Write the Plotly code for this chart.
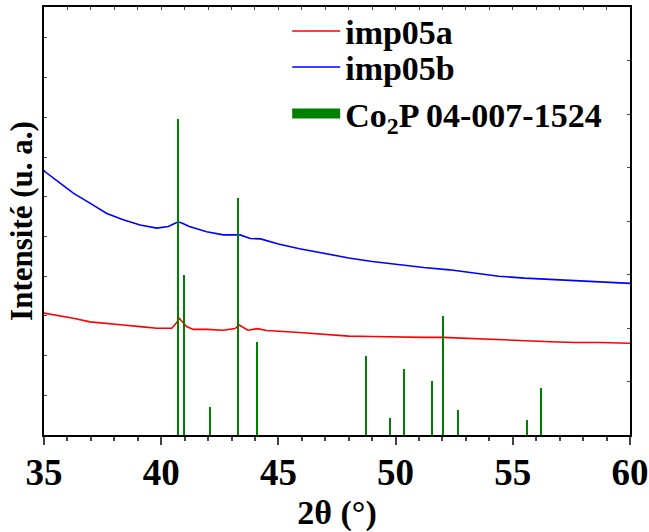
import plotly.graph_objects as go

# --- data ---
two_theta_b = [35.0, 35.05, 35.7, 36.25, 36.96, 37.68, 38.38, 39.1, 39.81, 40.3, 40.55, 40.73,
               40.95, 41.2, 41.94, 42.65, 43.37, 43.8, 44.24, 45.0, 45.9, 47.0, 48.0, 49.0,
               50.2, 51.2, 52.3, 53.4, 54.4, 55.5, 56.6, 57.7, 58.7, 60.0]
imp05b = [667, 663, 634, 609, 584, 558, 542, 529, 521, 525, 532, 537,
          532, 525, 512, 504, 504, 495, 494, 481, 469, 456, 446, 437,
          428, 422, 416, 407, 400, 395, 392, 388, 385, 382]

two_theta_a = [35.0, 35.5, 36.25, 36.96, 37.68, 38.38, 39.1, 39.81, 40.45, 40.62, 40.77, 40.92,
               41.08, 41.37, 41.94, 42.65, 43.15, 43.33, 43.5, 43.7, 44.1, 44.5, 45.9, 47.0,
               48.0, 49.0, 50.2, 51.2, 52.0, 53.2, 54.4, 55.5, 56.6, 57.7, 58.7, 60.0]
imp05a = [307, 302, 294, 285, 280, 277, 273, 269, 269, 280, 294, 285,
          273, 266, 266, 264, 268, 277, 270, 264, 268, 263, 258, 253,
          249, 248, 246, 246, 246, 243, 239, 237, 235, 233, 233, 231]

ref_pos = [40.71, 40.97, 42.07, 43.30, 44.10, 48.75, 49.75, 50.37, 51.54, 52.01, 52.65, 55.60, 56.20]
ref_int = [100, 50.6, 8.9, 75, 29.4, 25, 5.5, 20.9, 17.2, 37.7, 7.9, 4.7, 14.9]

x_ticks = [35, 40, 45, 50, 55, 60]

FONT = "Liberation Serif"

fig = go.Figure()
fig.add_trace(go.Scatter(x=two_theta_a, y=imp05a, mode="lines", name="imp05a",
                         line=dict(color="#ff0000", width=1.6), legend="legend"))
fig.add_trace(go.Scatter(x=two_theta_b, y=imp05b, mode="lines", name="imp05b",
                         line=dict(color="#0000ff", width=1.6), legend="legend2"))
fig.add_trace(go.Bar(x=ref_pos, y=ref_int, width=0.05, marker=dict(color="#008000", line=dict(width=0)),
                     xaxis="x2", yaxis="y2", showlegend=False, name="Co2P"))
# legend proxy for the reference pattern
fig.add_trace(go.Scatter(x=[None], y=[None], mode="lines", name="Co<sub>2</sub>P 04-007-1524",
                         line=dict(color="#008000", width=16), legend="legend3"))

leg_common = dict(x=0.415, xanchor="left", yanchor="middle", bgcolor="rgba(0,0,0,0)",
                  font=dict(family=FONT, size=34, weight="bold"), itemwidth=48)

fig.update_layout(
    width=649, height=532,
    margin=dict(l=44, r=19, t=7, b=97, autoexpand=False),
    paper_bgcolor="white", plot_bgcolor="white",
    font=dict(family=FONT, size=37, color="black", weight="bold"),
    showlegend=True,
    legend=dict(y=0.943, **leg_common),
    legend2=dict(y=0.859, **leg_common),
    legend3=dict(y=0.750, **leg_common),
    bargap=0,
    xaxis=dict(range=[35, 60], tickvals=x_ticks, ticks="outside", ticklen=8, tickwidth=2,
               showline=True, linewidth=2, linecolor="black", showgrid=False, zeroline=False,
               automargin=False, ticklabelstandoff=-4,
               minor=dict(dtick=1, ticks="outside", ticklen=4, tickwidth=1.5, showgrid=False),
               tickfont=dict(size=37), title=dict(text="2θ (°)", standoff=12, font=dict(size=34))),
    yaxis=dict(range=[0, 1078], dtick=100, ticks="inside", ticklen=3, tickwidth=1,
               showticklabels=False, showline=True, linewidth=2, linecolor="black",
               showgrid=False, zeroline=False, automargin=False,
               title=dict(text="Intensité (u. a.)", standoff=0, font=dict(size=31))),
    xaxis2=dict(range=[35, 60], overlaying="x", side="top", anchor="y2", dtick=1, ticks="inside",
                ticklen=3, tickwidth=1, showticklabels=False, showline=True, linewidth=2,
                linecolor="black", showgrid=False, zeroline=False, automargin=False),
    yaxis2=dict(range=[0, 135.4], overlaying="y", side="right", anchor="x2", dtick=16.925,
                ticks="inside", ticklen=3, tickwidth=1, showticklabels=False, showline=True,
                linewidth=2, linecolor="black", showgrid=False, zeroline=False, automargin=False),
)

fig.write_html("out.html", config={"displayModeBar": False},
               post_script="document.body.style.margin='0';document.body.style.overflow='hidden';")
